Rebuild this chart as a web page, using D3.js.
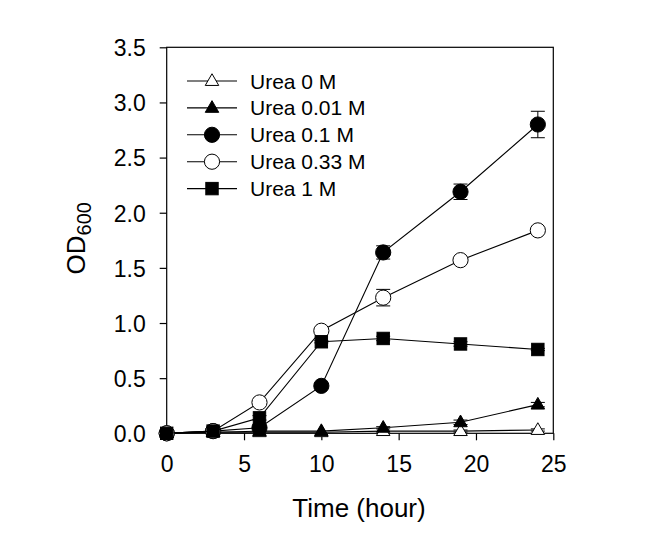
<!DOCTYPE html>
<html><head><meta charset="utf-8">
<script src="https://cdn.jsdelivr.net/npm/d3@7"></script>
<style>body{margin:0;background:#fff}text{font-family:Arial,"Liberation Sans",sans-serif;fill:#000}</style>
</head><body>
<svg id="c" width="651" height="534"></svg>
<script>
const times = [0, 3, 6, 10, 14, 19, 24];
const seriesNames = ["Urea 0 M", "Urea 0.01 M", "Urea 0.1 M", "Urea 0.33 M", "Urea 1 M"];
const urea0   = [0, 0.01, 0.01, 0.01, 0.02, 0.02, 0.03];
const urea001 = [0, 0.01, 0.02, 0.02, 0.05, 0.10, 0.26];
const urea01  = [0, 0.02, 0.05, 0.43, 1.64, 2.19, 2.80];
const urea033 = [0, 0.02, 0.28, 0.93, 1.23, 1.57, 1.84];
const urea1   = [0, 0.02, 0.14, 0.83, 0.86, 0.81, 0.76];
const err0   = [0, 0, 0, 0, 0, 0.01, 0.01];
const err001 = [0, 0, 0, 0, 0.01, 0.02, 0.02];
const err01  = [0, 0, 0.01, 0.02, 0.06, 0.07, 0.12];
const err033 = [0, 0, 0.01, 0.01, 0.075, 0.02, 0.02];
const err1   = [0, 0, 0.02, 0.01, 0.02, 0.02, 0.01];
const xTicks = [0, 5, 10, 15, 20, 25];
const yTicks = [0, 0.5, 1.0, 1.5, 2.0, 2.5, 3.0, 3.5];

const series = [
  {name: seriesNames[0], vals: urea0, err: err0, shape: "tri", fill: "#fff"},
  {name: seriesNames[1], vals: urea001, err: err001, shape: "tri", fill: "#000"},
  {name: seriesNames[2], vals: urea01, err: err01, shape: "circle", fill: "#000"},
  {name: seriesNames[3], vals: urea033, err: err033, shape: "circle", fill: "#fff"},
  {name: seriesNames[4], vals: urea1, err: err1, shape: "square", fill: "#000"}
];

const svg = d3.select("#c");
const L = 166.7, R = 553.3, T = 47.3, B = 433.3;
const x = d3.scaleLinear().domain([0, 25]).range([L, R]);
const y = d3.scaleLinear().domain([0, 3.5]).range([B, T]);

svg.append("rect").attr("x", L).attr("y", T).attr("width", R - L).attr("height", B - T)
  .attr("fill", "none").attr("stroke", "#000").attr("stroke-width", 1.2);

const xAxis = svg.append("g").attr("transform", `translate(0,${B})`)
  .call(d3.axisBottom(x).tickValues(xTicks).tickSize(7).tickPadding(15).tickFormat(d3.format("d")));
const yAxis = svg.append("g").attr("transform", `translate(${L},0)`)
  .call(d3.axisLeft(y).tickValues(yTicks).tickSize(7).tickPadding(14).tickFormat(d3.format(".1f")));
[xAxis, yAxis].forEach(a => {
  a.select(".domain").remove();
  a.selectAll("line").attr("stroke", "#000").attr("stroke-width", 1.2);
  a.selectAll("text").attr("font-size", 23).attr("font-family", "Arial, 'Liberation Sans', sans-serif").attr("fill", "#000");
});
yAxis.selectAll("text").attr("dy", "0.36em");

svg.append("text").attr("x", (L + R) / 2 - 1).attr("y", 517).attr("text-anchor", "middle")
  .attr("font-size", 26).text("Time (hour)");
const yt = svg.append("text").attr("transform", `translate(85,${(T + B) / 2 - 2}) rotate(-90)`)
  .attr("text-anchor", "middle").attr("font-size", 26);
yt.append("tspan").text("OD");
yt.append("tspan").attr("font-size", 20).attr("dy", 6).text("600");

function drawMarker(g, shape, fill, cx, cy) {
  if (shape === "circle") {
    g.append("circle").attr("cx", cx).attr("cy", cy).attr("r", 7.6)
      .attr("fill", fill).attr("stroke", "#000").attr("stroke-width", 1);
  } else if (shape === "square") {
    g.append("rect").attr("x", cx - 6.2).attr("y", cy - 6.2).attr("width", 12.4).attr("height", 12.4)
      .attr("fill", fill).attr("stroke", "#000").attr("stroke-width", 1);
  } else {
    const s = 13.5, h = s * 0.866;
    g.append("path").attr("d", `M${cx},${cy - h * 0.62}L${cx + s / 2},${cy + h * 0.38}L${cx - s / 2},${cy + h * 0.38}Z`)
      .attr("fill", fill).attr("stroke", "#000").attr("stroke-width", 1);
  }
}

const line = d3.line().x((d, i) => x(times[i])).y(d => y(d));
series.forEach(s => {
  const g = svg.append("g");
  g.append("path").attr("d", line(s.vals)).attr("fill", "none").attr("stroke", "#000").attr("stroke-width", 1.1);
  s.vals.forEach((v, i) => {
    const e = s.err[i];
    if (e > 0) {
      const cx = x(times[i]);
      g.append("line").attr("x1", cx).attr("x2", cx).attr("y1", y(v - e)).attr("y2", y(v + e)).attr("stroke", "#000");
      [v - e, v + e].forEach(w => g.append("line").attr("x1", cx - 7).attr("x2", cx + 7)
        .attr("y1", y(w)).attr("y2", y(w)).attr("stroke", "#000"));
    }
  });
  s.vals.forEach((v, i) => drawMarker(g, s.shape, s.fill, x(times[i]), y(v)));
});

const legY0 = 81, legDY = 26.9;
series.forEach((s, i) => {
  const ly = legY0 + i * legDY;
  const g = svg.append("g");
  g.append("line").attr("x1", 187).attr("x2", 237).attr("y1", ly).attr("y2", ly).attr("stroke", "#000").attr("stroke-width", 1.1);
  drawMarker(g, s.shape, s.fill, 212, ly);
  g.append("text").attr("x", 250).attr("y", ly).attr("dy", "0.36em").attr("font-size", 21).text(s.name);
});
</script>
</body></html>
